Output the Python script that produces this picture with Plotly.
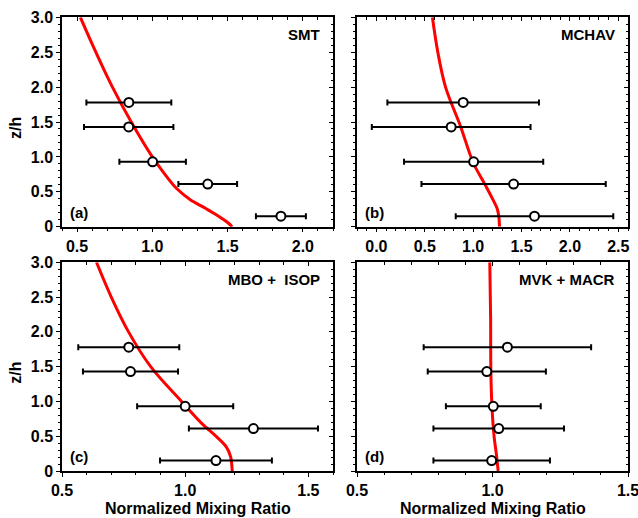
import plotly.graph_objects as go

# ---------------- data ----------------
z_obs = [1.78, 1.43, 0.93, 0.61, 0.15]

smt_x = [0.844, 0.843, 1.002, 1.368, 1.854]
smt_err = [0.282, 0.297, 0.221, 0.195, 0.166]
smt_curve_z = [0.0, 0.06, 0.15, 0.26, 0.39, 0.55, 0.79, 1.0, 1.5, 2.0, 2.5, 3.0]
smt_curve_x = [1.53, 1.50, 1.44, 1.355, 1.25, 1.16, 1.07, 1.0, 0.86, 0.735, 0.625, 0.522]

mchav_x = [0.897, 0.773, 1.005, 1.418, 1.634]
mchav_err = [0.783, 0.820, 0.719, 0.952, 0.814]
mchav_curve_z = [0.0, 0.14, 0.26, 0.38, 0.61, 0.92, 1.43, 2.0, 2.5, 3.0]
mchav_curve_x = [1.272, 1.266, 1.248, 1.207, 1.12, 1.0, 0.872, 0.715, 0.635, 0.579]

mbo_x = [0.771, 0.778, 1.000, 1.277, 1.125]
mbo_err = [0.205, 0.193, 0.195, 0.262, 0.227]
mbo_curve_z = [0.0, 0.21, 0.34, 0.49, 0.685, 1.0, 1.5, 2.0, 2.5, 3.0]
mbo_curve_x = [1.191, 1.184, 1.168, 1.128, 1.067, 0.985, 0.86, 0.77, 0.70, 0.640]

mvk_x = [1.055, 0.979, 1.003, 1.023, 0.997]
mvk_err = [0.309, 0.218, 0.175, 0.241, 0.215]
mvk_curve_z = [0.0, 0.25, 0.49, 0.925, 1.43, 2.22, 3.0]
mvk_curve_x = [1.021, 1.014, 1.006, 0.998, 0.994, 0.993, 0.990]

panel_names = ["SMT", "MCHAV", "MBO +\u00a0 ISOP", "MVK + MACR"]
panel_letters = ["(a)", "(b)", "(c)", "(d)"]
x_ranges = [[0.4, 2.2], [-0.2, 2.6], [0.5, 1.6], [0.5, 1.5]]
x_tickvals = [[0.5, 1.0, 1.5, 2.0], [0.0, 0.5, 1.0, 1.5, 2.0, 2.5], [0.5, 1.0, 1.5], [0.5, 1.0, 1.5]]
x_ticktext = [["0.5", "1.0", "1.5", "2.0"], ["0.0", "0.5", "1.0", "1.5", "2.0", "2.5"],
              ["0.5", "1.0", "1.5"], ["0.5", "1.0", "1.5"]]
y_tickvals = [0, 0.5, 1.0, 1.5, 2.0, 2.5, 3.0]
y_ticktext = ["0", "0.5", "1.0", "1.5", "2.0", "2.5", "3.0"]
y_labels_shown = [True, False, True, False]
x_title = "Normalized Mixing Ratio"
y_title = "z/h"

obs_x = [smt_x, mchav_x, mbo_x, mvk_x]
obs_err = [smt_err, mchav_err, mbo_err, mvk_err]
curves_x = [smt_curve_x, mchav_curve_x, mbo_curve_x, mvk_curve_x]
curves_z = [smt_curve_z, mchav_curve_z, mbo_curve_z, mvk_curve_z]

# ---------------- layout geometry (pixels) ----------------
W, H = 638, 518
px_x = [(62, 333), (357, 628), (62, 333), (357, 628)]
px_y = [(17.3, 226.7), (17.3, 226.7), (262.3, 471), (262.3, 471)]

FONT = "Liberation Sans, Arial, Helvetica, sans-serif"
tickfont = dict(family=FONT, size=16, color="black", weight="bold")

fig = go.Figure()
layout = dict(
    width=W, height=H,
    margin=dict(l=0, r=0, t=0, b=0, autoexpand=False),
    paper_bgcolor="white", plot_bgcolor="white",
    showlegend=False,
    font=dict(family=FONT, color="black"),
)
annotations = []

for i in range(4):
    n = i + 1
    no = i + 5
    xa, ya = f"x{n}", f"y{n}"
    xo, yo = f"x{no}", f"y{no}"
    dx = [px_x[i][0] / W, px_x[i][1] / W]
    dy = [1 - px_y[i][1] / H, 1 - px_y[i][0] / H]

    # model curve
    fig.add_trace(go.Scatter(
        x=curves_x[i], y=curves_z[i], mode="lines",
        line=dict(color="#ff0000", width=3, shape="spline", smoothing=1.0),
        xaxis=xa, yaxis=ya, hoverinfo="skip"))
    # observations with error bars
    fig.add_trace(go.Scatter(
        x=obs_x[i], y=z_obs, mode="markers",
        marker=dict(symbol="circle", size=9, color="white",
                    line=dict(color="black", width=2)),
        error_x=dict(type="data", array=obs_err[i], visible=True,
                     color="black", thickness=2, width=3),
        xaxis=xa, yaxis=ya))
    # dummy trace for mirrored inside-tick axes
    fig.add_trace(go.Scatter(x=[None], y=[None], mode="markers",
                             xaxis=xo, yaxis=yo, hoverinfo="skip"))

    key_x = "xaxis" if n == 1 else f"xaxis{n}"
    key_y = "yaxis" if n == 1 else f"yaxis{n}"
    common = dict(showgrid=False, zeroline=False, fixedrange=True, automargin=False)
    layout[key_x] = dict(
        domain=dx, anchor=ya, range=x_ranges[i],
        tickmode="array", tickvals=x_tickvals[i], ticktext=x_ticktext[i],
        ticks="outside", ticklen=4, tickwidth=1.3, tickcolor="black",
        minor=dict(dtick=0.1, ticks="outside", ticklen=2.5, tickwidth=1, tickcolor="black", showgrid=False),
        showline=True, linecolor="black", linewidth=1.5, mirror=True,
        ticklabeloverflow="allow",
        tickfont=tickfont, **common)
    layout[key_y] = dict(
        domain=dy, anchor=xa, range=[0, 3],
        tickmode="array", tickvals=y_tickvals, ticktext=y_ticktext,
        showticklabels=y_labels_shown[i],
        ticks="outside", ticklen=4, tickwidth=1.3, tickcolor="black",
        minor=dict(dtick=0.1, ticks="outside", ticklen=2.5, tickwidth=1, tickcolor="black", showgrid=False),
        showline=True, linecolor="black", linewidth=1.5, mirror=True,
        ticklabeloverflow="allow",
        tickfont=tickfont, **common)
    layout[f"xaxis{no}"] = dict(
        overlaying=xa, side="top", anchor=yo, range=x_ranges[i],
        tickmode="array", tickvals=x_tickvals[i], showticklabels=False,
        ticks="inside", ticklen=4, tickwidth=1.3, tickcolor="black",
        minor=dict(dtick=0.1, ticks="inside", ticklen=2.5, tickwidth=1, tickcolor="black", showgrid=False),
        showline=False, **common)
    layout[f"yaxis{no}"] = dict(
        overlaying=ya, side="right", anchor=xo, range=[0, 3],
        tickmode="array", tickvals=y_tickvals, showticklabels=False,
        ticks="inside", ticklen=4, tickwidth=1.3, tickcolor="black",
        minor=dict(dtick=0.1, ticks="inside", ticklen=2.5, tickwidth=1, tickcolor="black", showgrid=False),
        showline=False, **common)

    # species name (top right) and panel letter (bottom left)
    annotations.append(dict(
        text=panel_names[i], xref="paper", yref="paper",
        x=(px_x[i][1] - 11) / W, y=1 - (px_y[i][0] + 17) / H,
        xanchor="right", yanchor="middle", showarrow=False,
        font=dict(family=FONT, size=15, color="black", weight="bold")))
    annotations.append(dict(
        text=panel_letters[i], xref="paper", yref="paper",
        x=(px_x[i][0] + 6) / W, y=1 - (px_y[i][1] - 14.5) / H,
        xanchor="left", yanchor="middle", showarrow=False,
        font=dict(family=FONT, size=15, color="black", weight="bold")))

# axis titles
for i in (0, 2):
    annotations.append(dict(
        text=y_title, xref="paper", yref="paper",
        x=16 / W, y=1 - ((px_y[i][0] + px_y[i][1]) / 2 + 6) / H,
        xanchor="center", yanchor="middle", textangle=-90, showarrow=False,
        font=dict(family=FONT, size=16, color="black", weight="bold")))
for i in (2, 3):
    annotations.append(dict(
        text=x_title, xref="paper", yref="paper",
        x=((px_x[i][0] + px_x[i][1]) / 2) / W, y=1 - 508 / H,
        xanchor="center", yanchor="middle", showarrow=False,
        font=dict(family=FONT, size=16, color="black", weight="bold")))

layout["annotations"] = annotations
fig.update_layout(**layout)
fig.write_html("out.html",
               config={"displayModeBar": False},
               post_script="document.body.style.margin='0';document.body.style.overflow='hidden';")
